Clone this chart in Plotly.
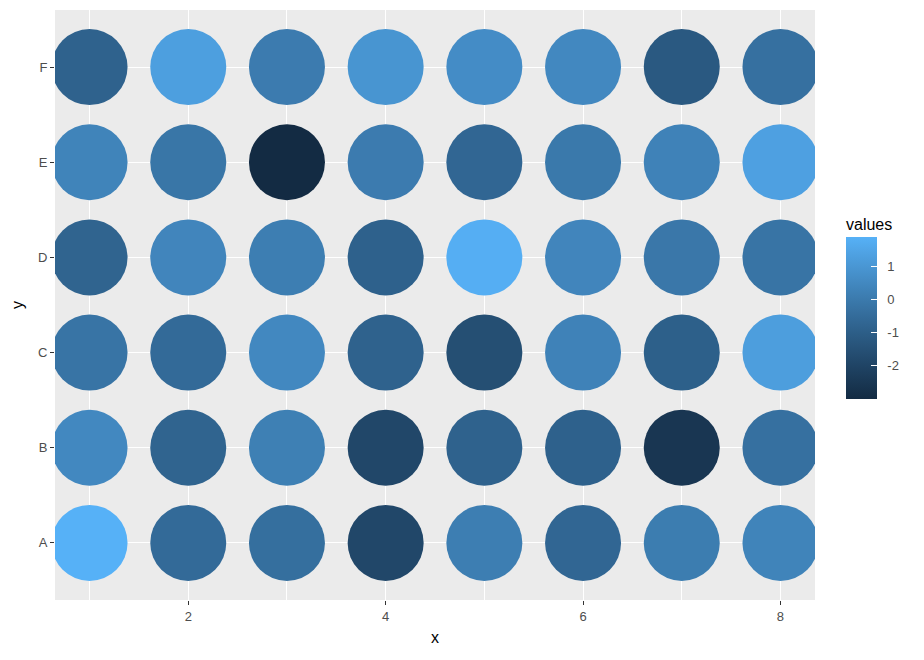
import plotly.graph_objects as go

X_VALUES = [1, 2, 3, 4, 5, 6, 7, 8]
Y_LABELS = ["A", "B", "C", "D", "E", "F"]

# one list per row (left to right)
ROW_A = [1.9, -0.55, -0.4, -1.9, 0.15, -0.7, 0.1, 0.35]
ROW_B = [0.5, -0.8, 0.2, -1.9, -0.85, -0.9, -2.55, -0.35]
ROW_C = [-0.2, -0.55, 0.5, -0.85, -1.6, 0.3, -0.95, 1.25]
ROW_D = [-0.8, 0.4, 0.15, -0.9, 1.8, 0.4, -0.1, -0.2]
ROW_E = [0.35, -0.15, -3.02, 0.05, -0.7, -0.05, 0.3, 1.35]
ROW_F = [-0.85, 1.3, 0.05, 0.95, 0.65, 0.5, -1.2, -0.35]
ROWS = [ROW_A, ROW_B, ROW_C, ROW_D, ROW_E, ROW_F]

COLORBAR_TICKS = [-2, -1, 0, 1]


def hex_to_lab(h):
    r, g, b = (int(h[i:i + 2], 16) / 255 for i in (1, 3, 5))

    def lin(c):
        return c / 12.92 if c <= 0.04045 else ((c + 0.055) / 1.055) ** 2.4

    r, g, b = lin(r), lin(g), lin(b)
    x = (0.4124 * r + 0.3576 * g + 0.1805 * b) / 0.95047
    y = 0.2126 * r + 0.7152 * g + 0.0722 * b
    z = (0.0193 * r + 0.1192 * g + 0.9505 * b) / 1.08883

    def f(t):
        return t ** (1 / 3) if t > 0.008856 else 7.787 * t + 16 / 116

    fx, fy, fz = f(x), f(y), f(z)
    return 116 * fy - 16, 500 * (fx - fy), 200 * (fy - fz)


def lab_to_rgb(L, a, b):
    fy = (L + 16) / 116
    fx = fy + a / 500
    fz = fy - b / 200

    def finv(t):
        return t ** 3 if t ** 3 > 0.008856 else (t - 16 / 116) / 7.787

    x, y, z = finv(fx) * 0.95047, finv(fy), finv(fz) * 1.08883
    r = 3.2406 * x - 1.5372 * y - 0.4986 * z
    g = -0.9689 * x + 1.8758 * y + 0.0415 * z
    bb = 0.0557 * x - 0.2040 * y + 1.0570 * z

    def gam(c):
        c = c * 12.92 if c <= 0.0031308 else 1.055 * c ** (1 / 2.4) - 0.055
        return max(0, min(255, round(c * 255)))

    return f"rgb({gam(r)},{gam(g)},{gam(bb)})"


# ggplot's default continuous scale, interpolated in Lab
lo, hi = hex_to_lab("#132B43"), hex_to_lab("#56B1F7")
colorscale = []
for i in range(11):
    t = i / 10
    colorscale.append([t, lab_to_rgb(*(lo[k] + (hi[k] - lo[k]) * t for k in range(3)))])

xs, ys, vals = [], [], []
for label, row in zip(Y_LABELS, ROWS):
    for x, v in zip(X_VALUES, row):
        xs.append(x)
        ys.append(label)
        vals.append(v)

# page body has an 8px margin, so the figure is laid out 8px up/left
fig = go.Figure(
    go.Scatter(
        x=xs,
        y=ys,
        mode="markers",
        marker=dict(
            size=76,
            color=vals,
            colorscale=colorscale,
            cmin=-3.02,
            cmax=1.9,
            line=dict(width=0),
            colorbar=dict(
                title=dict(text="values", side="top", font=dict(size=16, color="black")),
                tickvals=COLORBAR_TICKS,
                ticktext=["\u00a0\u00a0" + str(t) for t in COLORBAR_TICKS],
                ticks="inside",
                ticklen=6,
                tickcolor="white",
                tickfont=dict(size=13, color="#4D4D4D"),
                outlinewidth=0,
                thickness=31,
                lenmode="pixels",
                len=184,
                x=(838 - 47) / 760,
                xanchor="left",
                xpad=0,
                y=1 - (391 - 2) / 590,
                yanchor="bottom",
                ypad=0,
            ),
        ),
        hovertemplate="x=%{x}<br>y=%{y}<br>value=%{marker.color:.2f}<extra></extra>",
    )
)

fig.update_layout(
    width=924,
    height=660,
    margin=dict(l=47, r=117, t=2, b=68, autoexpand=False),
    plot_bgcolor="#EBEBEB",
    paper_bgcolor="white",
    font=dict(family="Liberation Sans, Arial, sans-serif", size=12, color="#4D4D4D"),
    showlegend=False,
)

fig.update_xaxes(
    range=[0.65, 8.35],
    tick0=0,
    dtick=2,
    showgrid=True,
    gridcolor="white",
    gridwidth=1.1,
    minor=dict(showgrid=True, gridcolor="white", gridwidth=0.5, dtick=1),
    zeroline=False,
    ticks="outside",
    ticklen=4,
    tickcolor="#333333",
    tickfont=dict(size=13, color="#4D4D4D"),
    title=dict(text="x", font=dict(size=16, color="black"), standoff=9),
)

fig.update_yaxes(
    type="category",
    categoryorder="array",
    categoryarray=Y_LABELS,
    range=[-0.6, 5.6],
    showgrid=True,
    gridcolor="white",
    gridwidth=1.1,
    zeroline=False,
    ticks="outside",
    ticklen=4,
    tickcolor="#333333",
    tickfont=dict(size=13, color="#4D4D4D"),
    title=dict(text="y", font=dict(size=16, color="black"), standoff=10),
)

fig.write_html("out.html")
